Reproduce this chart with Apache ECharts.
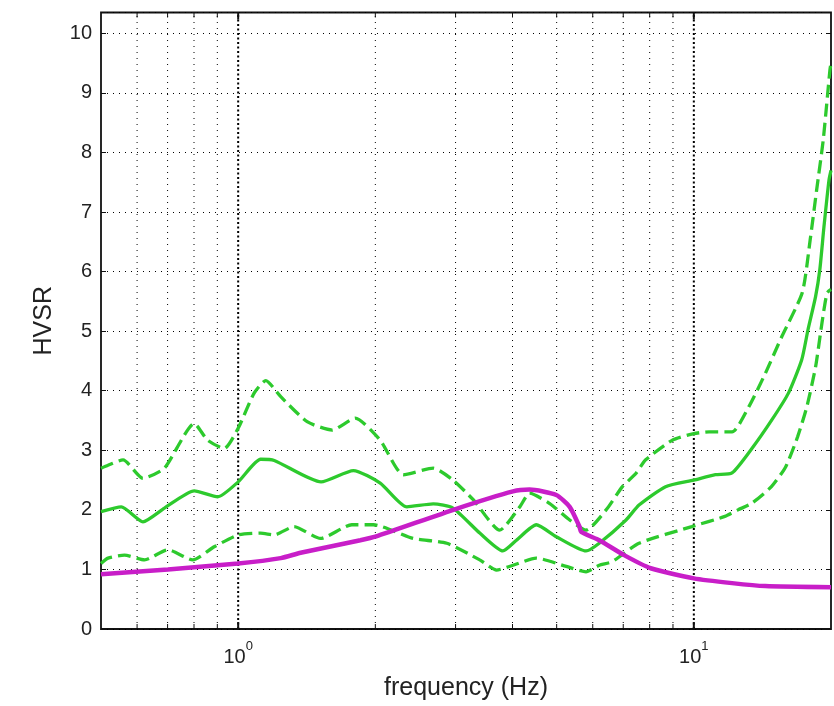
<!DOCTYPE html>
<html>
<head>
<meta charset="utf-8">
<script src="https://cdn.jsdelivr.net/npm/echarts@6/dist/echarts.min.js"></script>
<style>
  html, body { margin: 0; padding: 0; background: #fff; }
  #chart { width: 834px; height: 706px; }
</style>
</head>
<body>
<div id="chart"></div>
<script>
// Frequency range and HVSR range
var X_MIN = 0.5, X_MAX = 20;
var Y_MIN = 0, Y_MAX = 10.35;

// Vertical grid lines of the log frequency axis
var gridFreqs = [0.6, 0.7, 0.8, 0.9, 1, 2, 3, 4, 5, 6, 7, 8, 9, 10];

// Mean H/V curve
var meanFreq = [0.5, 0.554, 0.618, 0.689, 0.801, 0.902, 1.0, 1.12, 1.2, 1.52, 1.79, 2.05, 2.345, 2.68, 2.96, 3.39, 3.81, 4.08, 4.51, 4.99, 5.8, 6.2, 7.1, 7.58, 8.67, 10, 11.15, 12.13, 13.41, 14.83, 16.13, 17.25, 17.8, 18.5, 18.9, 19.3, 19.8, 20];
var meanHvsr = [1.97, 2.05, 1.80, 2.03, 2.32, 2.22, 2.47, 2.85, 2.83, 2.47, 2.66, 2.45, 2.05, 2.10, 2.03, 1.61, 1.31, 1.49, 1.75, 1.55, 1.31, 1.44, 1.83, 2.08, 2.39, 2.50, 2.59, 2.62, 3.03, 3.51, 3.96, 4.52, 5.02, 5.58, 6.03, 6.75, 7.54, 7.7];

// Mean + standard deviation
var upperFreq = [0.5, 0.518, 0.559, 0.618, 0.689, 0.801, 0.857, 0.932, 1.0, 1.084, 1.15, 1.24, 1.417, 1.608, 1.807, 2.05, 2.305, 2.68, 2.96, 3.28, 3.75, 4.15, 4.36, 4.82, 5.34, 5.8, 6.42, 6.97, 7.46, 7.84, 8.97, 10, 10.8, 12.13, 13.2, 14.35, 15.6, 17.3, 18.0, 18.6, 19.23, 19.89, 20];
var upperHvsr = [2.70, 2.75, 2.84, 2.53, 2.70, 3.45, 3.17, 3.03, 3.37, 3.96, 4.17, 3.90, 3.48, 3.34, 3.54, 3.17, 2.59, 2.70, 2.50, 2.17, 1.66, 2.05, 2.28, 2.11, 1.83, 1.66, 2.0, 2.39, 2.61, 2.84, 3.17, 3.28, 3.31, 3.31, 3.73, 4.29, 4.91, 5.65, 6.53, 7.37, 8.21, 9.38, 9.5];

// Mean - standard deviation
var lowerFreq = [0.5, 0.518, 0.563, 0.623, 0.701, 0.795, 0.886, 1.0, 1.12, 1.2, 1.326, 1.516, 1.776, 1.98, 2.42, 2.87, 3.39, 3.69, 4.01, 4.51, 5.25, 5.8, 6.2, 6.62, 7.58, 9.9, 11.7, 12.5, 13.4, 14.8, 15.9, 16.9, 17.7, 18.5, 19.1, 19.6, 20];
var lowerHvsr = [1.10, 1.19, 1.24, 1.16, 1.33, 1.16, 1.38, 1.58, 1.61, 1.58, 1.72, 1.52, 1.75, 1.75, 1.52, 1.44, 1.16, 0.99, 1.07, 1.19, 1.05, 0.96, 1.07, 1.13, 1.44, 1.72, 1.89, 2.0, 2.11, 2.39, 2.72, 3.23, 3.73, 4.40, 5.13, 5.64, 5.7];

// Model H/V curve
var modelFreq = [0.5, 0.701, 1.0, 1.24, 1.371, 1.854, 2.0, 2.99, 4.01, 4.36, 4.99, 5.34, 5.61, 5.66, 6.2, 7.03, 8.04, 10, 12.13, 14.35, 20];
var modelHvsr = [0.92, 1.0, 1.10, 1.19, 1.28, 1.49, 1.55, 2.01, 2.31, 2.34, 2.25, 2.05, 1.72, 1.63, 1.49, 1.24, 1.02, 0.85, 0.77, 0.72, 0.70];

var GREEN = '#2dca2d';
var MAGENTA = '#c81ec8';
var FONT = "'Liberation Sans', Arial, sans-serif";

function pairs(xs, ys) {
  return xs.map(function (x, i) { return [x, ys[i]]; });
}

function isDecade(v) {
  var e = Math.log10(v);
  return Math.abs(e - Math.round(e)) < 1e-6;
}

var chart = echarts.init(document.getElementById('chart'), null, { renderer: 'canvas' });

chart.setOption({
  animation: false,
  backgroundColor: '#fff',
  grid: {
    left: 101, right: 1, top: 12.5, bottom: 77,
    show: true, borderColor: '#111', borderWidth: 1.8, backgroundColor: 'transparent'
  },
  xAxis: {
    type: 'log', logBase: 10, min: X_MIN, max: X_MAX,
    name: 'frequency (Hz)', nameLocation: 'middle', nameGap: 47,
    nameTextStyle: { fontFamily: FONT, fontSize: 25, color: '#222' },
    axisLine: { show: false },
    axisTick: { show: false },
    splitLine: { show: false },
    axisLabel: {
      interval: 0,
      margin: 11,
      formatter: function (v) {
        if (!isDecade(v)) return '';
        return '{b|10}{s|' + Math.round(Math.log10(v)) + '}';
      },
      rich: {
        b: { fontFamily: FONT, fontSize: 20, lineHeight: 27, verticalAlign: 'bottom', color: '#222' },
        s: { fontFamily: FONT, fontSize: 13, lineHeight: 13, verticalAlign: 'top', color: '#222' }
      }
    }
  },
  yAxis: [{
    type: 'value', min: Y_MIN, max: Y_MAX, interval: 1,
    name: 'HVSR', nameLocation: 'middle', nameGap: 44,
    nameTextStyle: { fontFamily: FONT, fontSize: 25, color: '#222' },
    axisLine: { show: false },
    axisTick: { show: true, inside: true, length: 5, lineStyle: { color: '#111', width: 1 } },
    axisLabel: {
      margin: 9, fontFamily: FONT, fontSize: 20, color: '#222',
      formatter: function (v) { return Math.abs(v - Math.round(v)) < 1e-9 ? String(Math.round(v)) : ''; }
    },
    splitLine: { show: true, lineStyle: { color: '#000', width: 1, type: [1, 5] } }
  }, {
    type: 'value', min: Y_MIN, max: Y_MAX, interval: 1, position: 'right',
    axisLine: { show: false },
    axisTick: { show: true, inside: true, length: 5, lineStyle: { color: '#111', width: 1 } },
    axisLabel: { show: false },
    splitLine: { show: false }
  }],
  series: [
    {
      // vertical grid lines plus the bottom and top tick marks of the log axis
      type: 'custom',
      silent: true,
      z: 1,
      clip: false,
      encode: { x: 0, y: 1 },
      data: gridFreqs.map(function (f) { return [f, Y_MIN]; }),
      renderItem: function (params, api) {
        var f = api.value(0);
        var b = api.coord([f, Y_MIN]);
        var t = api.coord([f, Y_MAX]);
        var major = isDecade(f);
        var tick = major ? 7 : 5;
        return {
          type: 'group',
          children: [
            { type: 'line', shape: { x1: b[0], y1: b[1], x2: t[0], y2: t[1] },
              style: { stroke: '#000', lineWidth: major ? 2 : 1, lineDash: major ? [2, 2.5] : [1, 5] } },
            { type: 'line', shape: { x1: b[0], y1: b[1], x2: b[0], y2: b[1] - tick },
              style: { stroke: '#111', lineWidth: major ? 2 : 1 } },
            { type: 'line', shape: { x1: t[0], y1: t[1], x2: t[0], y2: t[1] + tick },
              style: { stroke: '#111', lineWidth: major ? 2 : 1 } }
          ]
        };
      }
    },
    {
      name: 'mean + std', type: 'line', data: pairs(upperFreq, upperHvsr),
      showSymbol: false, smooth: 0.2, z: 3,
      lineStyle: { color: GREEN, width: 3.3, type: [13, 6] }
    },
    {
      name: 'mean - std', type: 'line', data: pairs(lowerFreq, lowerHvsr),
      showSymbol: false, smooth: 0.2, z: 3,
      lineStyle: { color: GREEN, width: 3.3, type: [13, 6] }
    },
    {
      name: 'mean', type: 'line', data: pairs(meanFreq, meanHvsr),
      showSymbol: false, smooth: 0.2, z: 4,
      lineStyle: { color: GREEN, width: 3.3 }
    },
    {
      name: 'model', type: 'line', data: pairs(modelFreq, modelHvsr),
      showSymbol: false, smooth: 0.2, z: 5,
      lineStyle: { color: MAGENTA, width: 4.5 }
    }
  ]
});
</script>
</body>
</html>
